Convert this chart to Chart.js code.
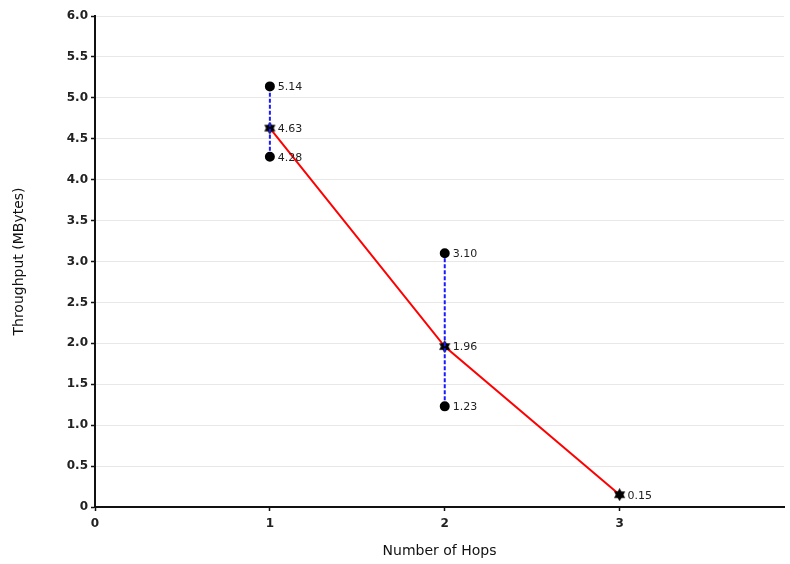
<!DOCTYPE html>
<html>
<head>
<meta charset="utf-8">
<script src="https://cdn.jsdelivr.net/npm/chart.js@4.4.1/dist/chart.umd.min.js"></script>
<style>
  html, body { margin: 0; padding: 0; background: #fff; }
  #wrap { width: 790px; height: 564px; }
</style>
</head>
<body>
<div id="wrap"><canvas id="chart"></canvas></div>
<script>
const hops = [1, 2, 3];
const meanThroughput = [4.63, 1.96, 0.15];
const lowThroughput = [4.28, 1.23, null];
const highThroughput = [5.14, 3.10, null];
const xTicks = [0, 1, 2, 3];

// filled six-pointed star marker
function makeStar(size) {
    const c = document.createElement('canvas');
    c.width = size; c.height = size;
    const g = c.getContext('2d');
    const cx = size / 2, cy = size / 2, r = size / 2;
    g.fillStyle = '#000';
    for (let k = 0; k < 2; k++) {
        g.beginPath();
        for (let i = 0; i < 3; i++) {
            const a = -Math.PI / 2 + k * Math.PI + i * 2 * Math.PI / 3;
            const px = cx + r * Math.cos(a), py = cy + r * Math.sin(a);
            if (i === 0) g.moveTo(px, py); else g.lineTo(px, py);
        }
        g.closePath();
        g.fill();
    }
    return c;
}
const star = makeStar(13);

const datasets = [];
// error bars first so the red line sits on top
hops.forEach((h, i) => {
    if (lowThroughput[i] == null) return;
    datasets.push({
        data: [{x: h, y: lowThroughput[i]}, {x: h, y: highThroughput[i]}],
        borderColor: '#1a1aff',
        borderWidth: 2,
        borderDash: [4, 2],
        pointStyle: 'circle',
        pointRadius: 4,
        pointBackgroundColor: '#000',
        pointBorderColor: '#000',
        showLine: true
    });
});
datasets.push({
    data: hops.map((h, i) => ({x: h, y: meanThroughput[i]})),
    borderColor: '#ff0000',
    borderWidth: 2,
    pointStyle: star,
    showLine: true
});

const pointLabels = {
    id: 'pointLabels',
    afterDatasetsDraw(chart) {
        const ctx = chart.ctx;
        ctx.save();
        ctx.font = '11px "DejaVu Sans"';
        ctx.fillStyle = '#222';
        ctx.textBaseline = 'middle';
        chart.data.datasets.forEach((ds, di) => {
            chart.getDatasetMeta(di).data.forEach((pt, j) => {
                ctx.fillText(ds.data[j].y.toFixed(2), pt.x + 8, pt.y + 1);
            });
        });
        ctx.restore();
    }
};

new Chart(document.getElementById('chart'), {
    type: 'scatter',
    data: { datasets },
    plugins: [pointLabels],
    options: {
        responsive: true,
        maintainAspectRatio: false,
        animation: false,
        layout: { padding: { top: 16, right: 0, left: 0, bottom: 0 } },
        plugins: { legend: { display: false }, tooltip: { enabled: false } },
        scales: {
            x: {
                type: 'linear',
                min: 0,
                max: 3.94,
                afterBuildTicks: s => { s.ticks = xTicks.map(v => ({value: v})); },
                afterFit: s => { s.height = 57; },
                border: { color: '#111', width: 2 },
                grid: { drawOnChartArea: false, tickColor: '#111', tickLength: 4, tickWidth: 1.5 },
                ticks: { color: '#222', font: { family: 'DejaVu Sans', size: 12, weight: 'bold' }, padding: 6 },
                title: { display: true, text: 'Number of Hops', color: '#111',
                         font: { family: 'DejaVu Sans', size: 14 }, padding: { top: 14 } }
            },
            y: {
                min: 0,
                max: 6,
                afterFit: s => { s.width = 95; },
                border: { color: '#111', width: 2 },
                grid: { color: '#e8e8e8', tickColor: '#111', tickLength: 4, tickWidth: 1.5 },
                ticks: {
                    stepSize: 0.5,
                    color: '#222',
                    font: { family: 'DejaVu Sans', size: 12, weight: 'bold' },
                    padding: 3,
                    callback: v => v === 0 ? '0' : v.toFixed(1)
                },
                title: { display: true, text: 'Throughput (MBytes)', color: '#111',
                         font: { family: 'DejaVu Sans', size: 14 }, padding: { top: 11, bottom: 13 } }
            }
        }
    }
});
</script>
</body>
</html>
